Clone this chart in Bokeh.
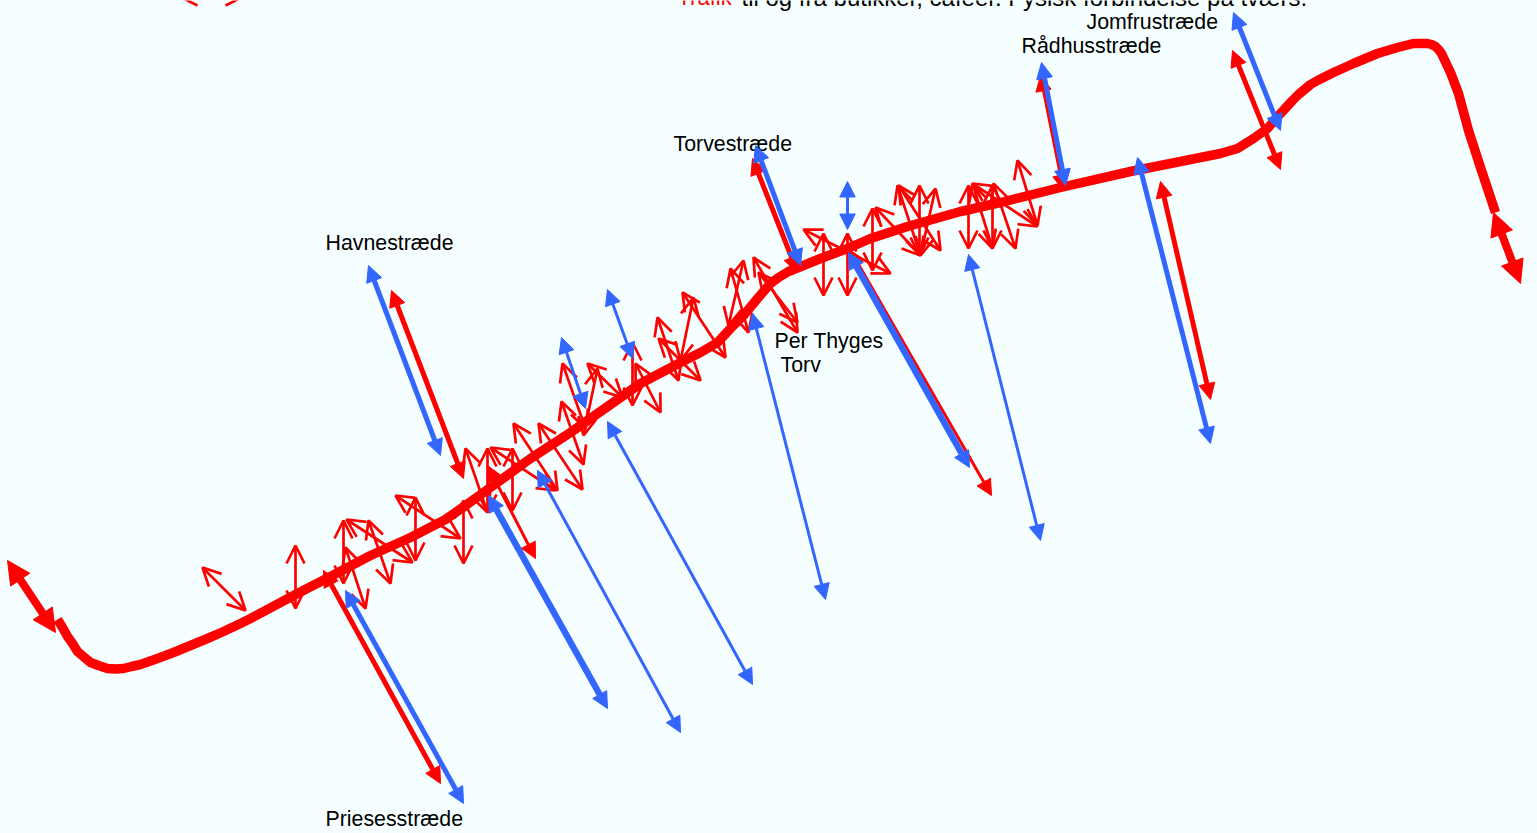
from bokeh.plotting import figure
from bokeh.models import Range1d, Arrow, NormalHead, OpenHead, ColumnDataSource
from bokeh.core.properties import value
from bokeh.embed import file_html
from bokeh.resources import INLINE

BG = "#F5FFFF"
RED = "#FF0000"
BLUE = "#3366FF"

road_x = [57,62,67,72,77,84,90,98,107,115,123,131,140,157,173,190,207,223,240,250,295,330,370,410,445,465,490,530,570,610,640,680,700,717,730,743,757,770,778,788,798,820,847,870,907,960,1000,1060,1130,1180,1220,1237,1253,1267,1280,1292,1298,1304,1310,1317,1333,1353,1377,1397,1413,1420,1427,1431,1435,1438,1441,1450,1458,1468,1480,1495]
road_y = [619,627,636,643,651,657,662,665,668,668.5,668,666,664,658,652,645,638,631,623,618,594,576,555,537,519,505,487,458,432,404,383,362,352,342,328,315,298,283,277,271,267,258,248,238,226,211,202,187,171,161,153,148,138,128,113,100,94,89,84,80,72,63,53,47,43,43,43,44,46,49,53,72,93,130,167,212]

# (x0, y0, x1, y1) of double arrows
ends_red = [(7,560,55,632),(1493,212,1520,283)]
red_w4 = [(323,570,440,783),(391,290,463,478),(1160,181,1210,399),(752,158,797,272),(1232,50,1280,169)]
red_w3 = [(850,250,991,495),(487,465,535,558),(1040,75,1063,190)]
blue_w5 = [(488,495,607,708),(848,252,969,467)]
blue_w4 = [(345,590,463,803),(368,265,440,455),(1137,157,1210,443),(755,145,800,265),(1041,62,1065,185),(1233,12,1280,130)]
blue_w3 = [(537,470,680,732),(607,421,752,684),(752,313,825,599),(968,254,1040,540),(847,181,847,229),(561,337,585,408),(607,289,632,358)]
red_thin = [
 (202,567,245,610),(295,545,295,608),(343,520,343,583),(346,519,412,562),(368,520,390,583),(345,547,365,608),
 (415,497,415,560),(395,495,460,538),(463,500,463,563),(465,448,487,512),(487,448,487,512),(490,447,555,490),
 (512,448,512,510),(513,423,557,490),(538,423,582,489),(561,401,583,464),(562,363,585,428),(587,363,622,397),
 (597,368,583,435),(632,342,632,405),(635,363,660,412),(657,317,678,380),(658,338,700,380),(693,297,680,360),
 (682,292,725,357),(730,268,748,332),(743,260,728,325),(753,257,797,332),(758,272,797,322),(823,233,823,295),
 (803,229,890,273),(847,233,847,295),(872,208,872,270),(875,207,920,255),(897,185,920,255),(919,185,919,255),
 (935,188,920,255),(898,185,940,250),(968,185,968,248),(972,183,1037,226),(992,185,992,248),(993,183,1015,248),
 (1017,160,1037,225),(972,183,992,248),(179,-4,243,-4),
]

labels = ["Priesesstræde","Havnestræde","Torvestræde","Rådhusstræde","Jomfrustræde","Per Thyges","Torv"]
label_x = [325,325,673,1021,1086,774,780]
label_y = [818,242,143,45,21,340,364]
title_red = "Trafik"
title_black = "til og fra butikker, caféer. Fysisk forbindelse på tværs."

p = figure(width=1537, height=833, output_backend="svg", toolbar_location=None,
           x_range=Range1d(0,1537), y_range=Range1d(833,0),
           background_fill_color=BG, border_fill_color=BG, min_border=0, outline_line_color=None)
p.axis.visible = False
p.grid.visible = False

def add(rows, color, width, size, head=NormalHead):
    src = ColumnDataSource(dict(x0=[r[0] for r in rows], y0=[r[1] for r in rows], x1=[r[2] for r in rows], y1=[r[3] for r in rows]))
    def mk():
        if head is OpenHead:
            return OpenHead(size=size, line_color=color, line_width=width)
        return NormalHead(size=size, fill_color=color, line_color=color, line_width=1)
    p.add_layout(Arrow(start=mk(), end=mk(), x_start="x0", y_start="y0", x_end="x1", y_end="y1",
                       line_color=color, line_width=width, source=src))

add(red_thin, RED, 2.7, 18, OpenHead)
add(red_w3, RED, 3, 15.5)
add(red_w4, RED, 5, 16)
p.line(road_x, road_y, line_color=RED, line_width=9.5, line_join="round")
add(ends_red, RED, 8, 23)
add(blue_w3, BLUE, 3, 15.5)
add(blue_w4, BLUE, 5, 16)
add(blue_w5, BLUE, 6.5, 16)

font = value("Liberation Sans")
p.text(label_x, label_y, text=labels, text_font=font, text_font_size="21.33px",
       text_color="#000000", text_baseline="alphabetic", text_align="left")
p.text([677], [-3], text=[title_red], text_font=font, text_font_size="22px",
       text_color=RED, text_baseline="alphabetic", text_align="left")
p.text([741], [-3], text=[title_black], text_font=font, text_font_size="24px",
       text_color="#000000", text_baseline="alphabetic", text_align="left")

html = file_html(p, INLINE)
html = html.replace("<head>", "<head><style>html,body{margin:0;padding:0;overflow:hidden;background:%s}</style>" % BG, 1)
open("out.html", "w").write(html)
